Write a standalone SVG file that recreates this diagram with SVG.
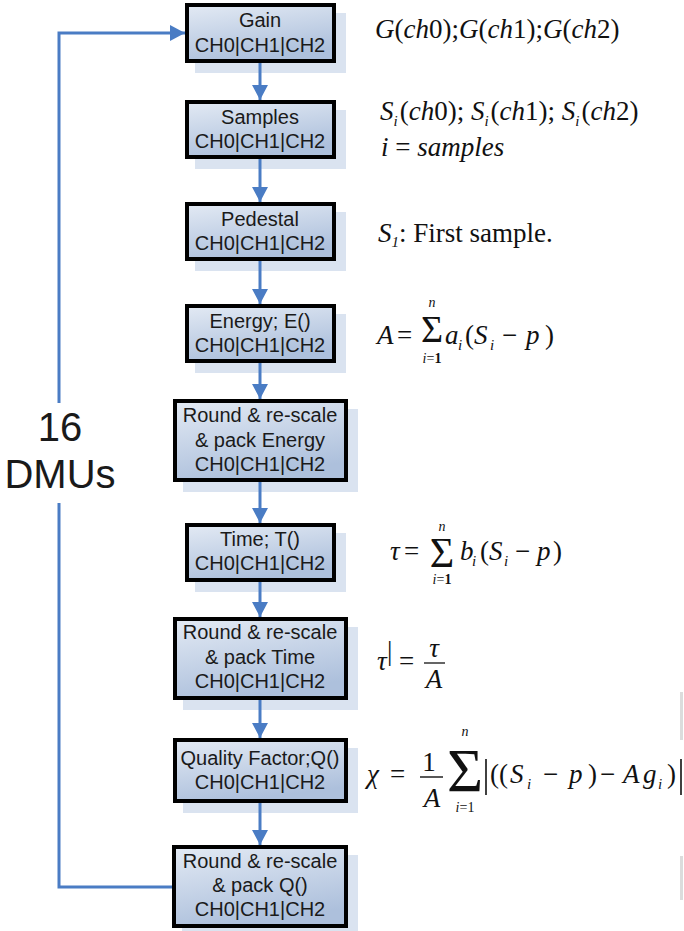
<svg xmlns="http://www.w3.org/2000/svg" width="684" height="931" viewBox="0 0 684 931">
  <style>
    .shadow { fill: #dae3f0; }
    .box { fill: url(#boxFill); stroke: #000; stroke-width: 4; }
    .lbl { font-family: "Liberation Sans", Arial, sans-serif; font-size: 20px; fill: #1a1a1a; text-anchor: middle; }
    .big { font-family: "Liberation Sans", Arial, sans-serif; font-size: 40px; fill: #1a1a1a; text-anchor: middle; }
    .conn { fill: none; stroke: #4a7cc4; stroke-width: 3; }
    .m { font-family: "Liberation Serif", "Times New Roman", serif; font-size: 27px; fill: #111; }
    .it { font-style: italic; }
    .sub { font-size: 15px; font-style: italic; }
    .lim { font-family: "Liberation Serif", "Times New Roman", serif; font-size: 14px; fill: #111; text-anchor: middle; }
    .sum { font-family: "Liberation Serif", "Times New Roman", serif; fill: #111; text-anchor: middle; }
    .edge { fill: #dcdcdc; }
  </style>
  <defs>
    <linearGradient id="boxFill" x1="0" y1="0" x2="0.35" y2="1">
      <stop offset="0" stop-color="#e3eaf4"/>
      <stop offset="1" stop-color="#adc0dc"/>
    </linearGradient>
    <marker id="arrow" markerUnits="userSpaceOnUse" markerWidth="16" markerHeight="16" viewBox="0 0 16 16" refX="15" refY="8" orient="auto">
      <path d="M0,0 L15,8 L0,16 Z" fill="#4a7cc4"/>
    </marker>
  </defs>

  <!-- page edge marks at the right border -->
  <rect class="edge" x="680" y="692" width="3" height="48"/>
  <rect class="edge" x="680" y="856" width="3" height="44"/>

  <!-- processing steps -->
  <g id="gain">
    <rect class="shadow" x="195" y="13" width="151" height="60"/>
    <rect class="box" x="187" y="5" width="147" height="56"/>
    <text class="lbl" x="260" y="27">Gain</text>
    <text class="lbl" x="260" y="52">CH0|CH1|CH2</text>
  </g>
  <g id="samples">
    <rect class="shadow" x="195" y="110" width="151" height="59"/>
    <rect class="box" x="187" y="102" width="147" height="55"/>
    <text class="lbl" x="260" y="124">Samples</text>
    <text class="lbl" x="260" y="148">CH0|CH1|CH2</text>
  </g>
  <g id="pedestal">
    <rect class="shadow" x="195" y="212" width="151" height="59"/>
    <rect class="box" x="187" y="204" width="147" height="55"/>
    <text class="lbl" x="260" y="226">Pedestal</text>
    <text class="lbl" x="260" y="250">CH0|CH1|CH2</text>
  </g>
  <g id="energy">
    <rect class="shadow" x="195" y="314" width="151" height="59"/>
    <rect class="box" x="187" y="306" width="147" height="55"/>
    <text class="lbl" x="260" y="328">Energy; E()</text>
    <text class="lbl" x="260" y="352">CH0|CH1|CH2</text>
  </g>
  <g id="pack-energy">
    <rect class="shadow" x="183" y="409" width="175" height="83"/>
    <rect class="box" x="175" y="401" width="171" height="79"/>
    <text class="lbl" x="260" y="422">Round &amp; re-scale</text>
    <text class="lbl" x="260" y="447">&amp; pack Energy</text>
    <text class="lbl" x="260" y="471">CH0|CH1|CH2</text>
  </g>
  <g id="time">
    <rect class="shadow" x="195" y="533" width="151" height="59"/>
    <rect class="box" x="187" y="525" width="147" height="55"/>
    <text class="lbl" x="260" y="546">Time; T()</text>
    <text class="lbl" x="260" y="570">CH0|CH1|CH2</text>
  </g>
  <g id="pack-time">
    <rect class="shadow" x="183" y="627" width="175" height="83"/>
    <rect class="box" x="175" y="619" width="171" height="79"/>
    <text class="lbl" x="260" y="639">Round &amp; re-scale</text>
    <text class="lbl" x="260" y="664">&amp; pack Time</text>
    <text class="lbl" x="260" y="688">CH0|CH1|CH2</text>
  </g>
  <g id="quality">
    <rect class="shadow" x="183" y="748" width="175" height="65"/>
    <rect class="box" x="175" y="740" width="171" height="61"/>
    <text class="lbl" x="260" y="765">Quality Factor;Q()</text>
    <text class="lbl" x="260" y="789">CH0|CH1|CH2</text>
  </g>
  <g id="pack-quality">
    <rect class="shadow" x="182" y="855" width="176" height="83"/>
    <rect class="box" x="174" y="847" width="172" height="79"/>
    <text class="lbl" x="260" y="868">Round &amp; re-scale</text>
    <text class="lbl" x="260" y="892">&amp; pack Q()</text>
    <text class="lbl" x="260" y="916">CH0|CH1|CH2</text>
  </g>

  <!-- loop label -->
  <g id="loop-label">
    <text class="big" x="60" y="441">16</text>
    <text class="big" x="60" y="488">DMUs</text>
  </g>

  <!-- connectors -->
  <g id="connectors">
    <line class="conn" x1="260" y1="63" x2="260" y2="100" marker-end="url(#arrow)"/>
    <line class="conn" x1="260" y1="159" x2="260" y2="202" marker-end="url(#arrow)"/>
    <line class="conn" x1="260" y1="261" x2="260" y2="304" marker-end="url(#arrow)"/>
    <line class="conn" x1="260" y1="363" x2="260" y2="399" marker-end="url(#arrow)"/>
    <line class="conn" x1="260" y1="482" x2="260" y2="523" marker-end="url(#arrow)"/>
    <line class="conn" x1="260" y1="582" x2="260" y2="617" marker-end="url(#arrow)"/>
    <line class="conn" x1="260" y1="700" x2="260" y2="738" marker-end="url(#arrow)"/>
    <line class="conn" x1="260" y1="803" x2="260" y2="845" marker-end="url(#arrow)"/>
    <polyline class="conn" points="172,887 59,887 59,503"/>
    <polyline class="conn" points="59,403 59,33 185,33" marker-end="url(#arrow)"/>
  </g>

  <!-- formulas -->
  <g id="formula-gain">
    <text class="m" x="375" y="38"><tspan class="it">G</tspan>(<tspan class="it">ch</tspan>0);<tspan class="it">G</tspan>(<tspan class="it">ch</tspan>1);<tspan class="it">G</tspan>(<tspan class="it">ch</tspan>2)</text>
  </g>
  <g id="formula-samples">
    <text class="m" x="380" y="120"><tspan class="it">S</tspan><tspan class="sub" dy="6">i</tspan><tspan dy="-6" dx="2">(</tspan><tspan class="it">ch</tspan>0); <tspan class="it">S</tspan><tspan class="sub" dy="6">i</tspan><tspan dy="-6" dx="2">(</tspan><tspan class="it">ch</tspan>1); <tspan class="it">S</tspan><tspan class="sub" dy="6">i</tspan><tspan dy="-6" dx="2">(</tspan><tspan class="it">ch</tspan>2)</text>
    <text class="m" x="381" y="156"><tspan class="it">i</tspan> = <tspan class="it">samples</tspan></text>
  </g>
  <g id="formula-pedestal">
    <text class="m" x="378" y="242"><tspan class="it">S</tspan><tspan class="sub" dy="5">1</tspan><tspan dy="-5">: First sample.</tspan></text>
  </g>
  <g id="formula-energy">
    <text class="m" x="377" y="344"><tspan class="it">A</tspan></text>
    <text class="m" x="397" y="344">=</text>
    <text class="sum" x="432" y="342" font-size="38">Σ</text>
    <text class="lim" x="432" y="307"><tspan class="it">n</tspan></text>
    <text class="lim" x="432" y="363"><tspan class="it">i</tspan>=<tspan font-weight="bold">1</tspan></text>
    <text class="m" y="344"><tspan class="it" x="445">a</tspan><tspan class="sub" x="458" dy="6">i</tspan><tspan x="465" dy="-6">(</tspan><tspan class="it" x="474">S</tspan><tspan class="sub" x="490" dy="6">i</tspan><tspan x="502" dy="-6">−</tspan><tspan class="it" x="526">p</tspan><tspan x="545">)</tspan></text>
  </g>
  <g id="formula-time">
    <text class="m" x="390" y="560"><tspan class="it">τ</tspan></text>
    <text class="m" x="404" y="560">=</text>
    <text class="sum" x="442" y="567" font-size="42">Σ</text>
    <text class="lim" x="442" y="531"><tspan class="it">n</tspan></text>
    <text class="lim" x="442" y="584"><tspan class="it">i</tspan>=<tspan font-weight="bold">1</tspan></text>
    <text class="m" y="560"><tspan class="it" x="460">b</tspan><tspan class="sub" x="472" dy="6">i</tspan><tspan x="480" dy="-6">(</tspan><tspan class="it" x="489">S</tspan><tspan class="sub" x="504" dy="6">i</tspan><tspan x="515" dy="-6">−</tspan><tspan class="it" x="537">p</tspan><tspan x="553">)</tspan></text>
  </g>
  <g id="formula-time-norm">
    <text class="m" x="377" y="670"><tspan class="it">τ</tspan></text>
    <text class="m" x="387" y="660" font-size="13">|</text>
    <text class="m" x="399" y="670">=</text>
    <text class="m" x="434" y="657" text-anchor="middle"><tspan class="it">τ</tspan></text>
    <line x1="424" y1="663" x2="445" y2="663" stroke="#111" stroke-width="1.3"/>
    <text class="m" x="434" y="688" text-anchor="middle"><tspan class="it">A</tspan></text>
  </g>
  <g id="formula-quality">
    <text class="m" x="367" y="783" font-size="31"><tspan class="it">χ</tspan></text>
    <text class="m" x="390" y="783" font-size="31">=</text>
    <text class="m" x="429" y="771" font-size="31" text-anchor="middle">1</text>
    <line x1="420" y1="777" x2="443" y2="777" stroke="#111" stroke-width="1.4"/>
    <text class="m" x="432" y="807" font-size="31" text-anchor="middle"><tspan class="it">A</tspan></text>
    <text class="sum" x="465" y="791" font-size="62">Σ</text>
    <text class="lim" x="465" y="736" font-size="16"><tspan class="it">n</tspan></text>
    <text class="lim" x="465" y="812" font-size="16"><tspan class="it">i</tspan>=1</text>
    <line x1="486" y1="759" x2="486" y2="795" stroke="#111" stroke-width="1.6"/>
    <text class="m" y="783" font-size="31"><tspan x="490">((</tspan><tspan class="it" x="510">S</tspan><tspan class="sub" font-size="17" x="527" dy="6">i</tspan><tspan x="543" dy="-6">−</tspan><tspan class="it" x="569">p</tspan><tspan x="588">)</tspan><tspan x="600">−</tspan><tspan class="it" x="623">A</tspan><tspan class="it" x="643">g</tspan><tspan class="sub" font-size="17" x="658" dy="6">i</tspan><tspan x="667" dy="-6">)</tspan></text>
    <line x1="681" y1="759" x2="681" y2="795" stroke="#111" stroke-width="1.6"/>
  </g>
</svg>
